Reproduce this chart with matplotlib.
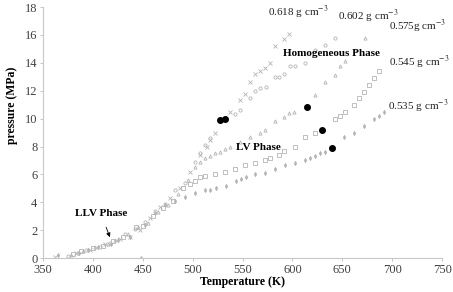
import matplotlib
matplotlib.use("Agg")
import matplotlib.pyplot as plt

# ---- data ----
T_618 = [362, 383, 397, 412, 427, 437, 447, 457, 467, 477, 487, 497, 507, 514, 517, 522,
         537, 547, 552, 557, 562, 567, 572, 577, 582, 592, 597]
P_618 = [0.1, 0.4, 0.6, 1.0, 1.4, 1.5, 2.0, 2.9, 3.7, 4.3, 5.0, 6.2, 7.4, 8.0, 8.5, 9.0,
         10.5, 11.3, 11.8, 12.6, 13.2, 13.4, 13.6, 14.0, 15.2, 15.7, 16.1]

T_602 = [375, 385, 393, 407, 417, 432, 442, 452, 462, 472, 482, 492, 502, 507, 512, 517,
         542, 547, 557, 562, 567, 573, 582, 587, 592, 598, 603, 613, 623, 633, 643]
P_602 = [0.15, 0.4, 0.6, 0.8, 1.1, 1.7, 2.1, 2.6, 3.4, 3.9, 4.9, 5.4, 6.9, 7.5, 8.1, 8.6,
         10.3, 10.6, 11.5, 12.0, 12.2, 12.3, 13.0, 13.0, 13.2, 13.8, 13.8, 14.0, 14.9, 15.3, 15.8]

T_575 = [378, 390, 402, 415, 422, 435, 445, 455, 465, 475, 485, 495, 502, 507, 512, 517,
         522, 527, 532, 537, 547, 557, 567, 572, 582, 592, 597, 602, 623, 633, 643, 648,
         653, 663, 673]
P_575 = [0.2, 0.5, 0.8, 1.0, 1.3, 1.7, 2.2, 2.5, 3.3, 3.8, 4.6, 5.6, 6.5, 6.9, 7.2, 7.3,
         7.5, 7.6, 7.8, 8.0, 8.3, 8.7, 9.0, 9.2, 9.8, 10.1, 10.4, 10.5, 11.7, 12.6, 13.1, 13.8,
         14.1, 14.9, 15.8]

T_545 = [380, 388, 400, 410, 420, 430, 443, 450, 460, 470, 480, 490, 497, 502, 507, 512,
         522, 532, 542, 552, 562, 572, 577, 587, 592, 603, 613, 623, 643, 648, 653, 662,
         667, 672, 677, 682, 687]
P_545 = [0.3, 0.5, 0.7, 0.9, 1.2, 1.5, 2.2, 2.3, 3.0, 3.6, 4.1, 5.0, 5.3, 5.5, 5.8, 5.9,
         6.0, 6.2, 6.4, 6.7, 6.8, 7.0, 7.2, 7.4, 7.7, 8.0, 8.7, 9.0, 10.0, 10.2, 10.5, 11.0,
         11.5, 11.9, 12.4, 12.9, 13.4]

T_535 = [365, 386, 395, 405, 418, 425, 437, 448, 452, 462, 472, 482, 492, 502, 512, 517,
         523, 533, 543, 548, 553, 562, 572, 582, 593, 603, 613, 618, 623, 628, 633, 652,
         662, 672, 682, 687, 692]
P_535 = [0.2, 0.4, 0.6, 0.8, 1.0, 1.3, 1.5, 0.0, 2.4, 3.2, 3.8, 4.1, 4.4, 4.7, 4.9, 4.9,
         5.0, 5.2, 5.5, 5.7, 5.8, 6.0, 6.1, 6.4, 6.7, 6.8, 7.0, 7.2, 7.3, 7.5, 7.6, 8.7,
         9.0, 9.5, 10.0, 10.2, 10.5]

T_trans = [527, 532, 615, 630, 640]
P_trans = [9.9, 10.0, 10.8, 9.2, 7.9]

x_ticks = [350, 400, 450, 500, 550, 600, 650, 700, 750]
y_ticks = [0, 2, 4, 6, 8, 10, 12, 14, 16, 18]

# ---- figure ----
plt.rcParams['font.family'] = ['Liberation Serif', 'DejaVu Serif']
plt.rcParams['mathtext.fontset'] = 'stix'
fig = plt.figure(figsize=(4.53, 2.92), dpi=100)
ax = fig.add_axes([0.095, 0.116, 0.881, 0.86])

gray = '#b4b4b4'
ms = 2.3
ax.plot(T_618, P_618, linestyle='none', marker='x', ms=ms, mew=0.6, color=gray)
ax.plot(T_602, P_602, linestyle='none', marker='o', ms=ms, mew=0.6, mfc='none', mec=gray)
ax.plot(T_575, P_575, linestyle='none', marker='^', ms=ms, mew=0.6, mfc='none', mec=gray)
ax.plot(T_545, P_545, linestyle='none', marker='s', ms=ms, mew=0.6, mfc='none', mec=gray)
ax.plot(T_535, P_535, linestyle='none', marker='d', ms=ms, mew=0.4, color=gray)
ax.plot(T_trans, P_trans, linestyle='none', marker='o', ms=4.0, color='black')

ax.set_xlim(350, 750)
ax.set_ylim(0, 18)
ax.set_xticks(x_ticks)
ax.set_yticks(y_ticks)
ax.tick_params(labelsize=9, colors='#404040', length=2, width=0.6, color='#bbbbbb', pad=2)
for s in ['top', 'right']:
    ax.spines[s].set_visible(False)
for s in ['left', 'bottom']:
    ax.spines[s].set_color('#c8c8c8')
    ax.spines[s].set_linewidth(0.8)

ax.set_xlabel('Temperature (K)', fontsize=8.5, fontweight='bold', labelpad=0)
ax.set_ylabel('pressure (MPa)', fontsize=8.5, fontweight='bold')
ax.yaxis.set_label_coords(-0.062, 0.61)

fs = 8
ax.text(575, 17.6, '0.618 g cm$^{-3}$', fontsize=fs, va='center', ha='left', color='#222222')
ax.text(646, 17.3, '0.602 g cm$^{-3}$', fontsize=fs, va='center', ha='left', color='#222222')
ax.text(697, 16.6, '0.575g cm$^{-3}$', fontsize=fs, va='center', ha='left', color='#222222')
ax.text(697, 14.0, '0.545 g cm$^{-3}$', fontsize=fs, va='center', ha='left', color='#222222')
ax.text(696, 10.9, '0.535 g cm$^{-3}$', fontsize=fs, va='center', ha='left', color='#222222')
ax.text(639, 14.7, 'Homogeneous Phase', fontsize=fs, fontweight='bold', ha='center', va='center')
ax.text(566, 7.9, 'LV Phase', fontsize=fs, fontweight='bold', ha='center', va='center')
ax.annotate('LLV Phase', xy=(417, 1.5), xytext=(408, 3.2), fontsize=fs, fontweight='bold',
            ha='center', va='center',
            arrowprops=dict(arrowstyle='-|>', color='black', lw=0.6, mutation_scale=6,
                            shrinkA=5, shrinkB=0))

fig.savefig('out.png', dpi=100)
